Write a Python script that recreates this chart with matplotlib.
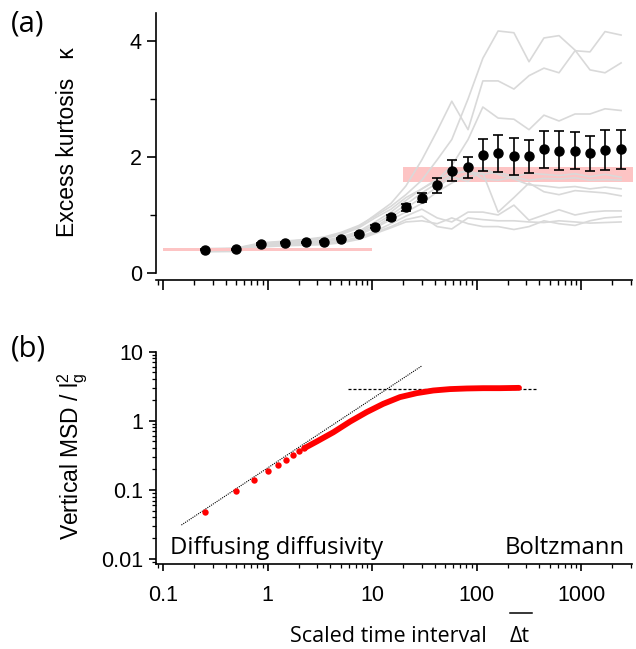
import matplotlib
matplotlib.use("Agg")
import matplotlib.pyplot as plt
from matplotlib.lines import Line2D
from matplotlib.ticker import FixedLocator, FixedFormatter, NullFormatter

plt.rcParams['font.family'] = ['Liberation Sans', 'DejaVu Sans']
plt.rcParams['mathtext.fontset'] = 'custom'
plt.rcParams['mathtext.rm'] = 'Liberation Sans'
plt.rcParams['mathtext.it'] = 'Liberation Sans:italic'

# ---- panel (a): excess kurtosis vs scaled time interval ----
dt_a = [0.25, 0.5, 0.87, 1.47, 2.33, 3.47, 5.05, 7.5, 10.7, 15.2, 21.1, 30, 42,
        58, 83, 115, 161, 228, 318, 442, 616, 877, 1219, 1698, 2418]
kappa_mean = [0.40, 0.41, 0.50, 0.52, 0.53, 0.54, 0.59, 0.67, 0.80, 0.96, 1.13, 1.30, 1.51,
              1.76, 1.82, 2.03, 2.06, 2.01, 2.01, 2.13, 2.11, 2.11, 2.06, 2.12, 2.13]
kappa_err = [0.01, 0.01, 0.01, 0.01, 0.01, 0.01, 0.01, 0.02, 0.03, 0.04, 0.06, 0.08, 0.13,
             0.18, 0.18, 0.28, 0.32, 0.32, 0.28, 0.32, 0.33, 0.32, 0.30, 0.34, 0.34]

# individual trajectories (grey)
traj_a = [0.42, 0.43, 0.52, 0.55, 0.58, 0.62, 0.70, 0.82, 0.98, 1.15, 1.35, 1.60, 1.95,
          2.30, 3.00, 3.70, 4.17, 4.14, 3.64, 4.05, 4.09, 3.84, 3.50, 3.45, 3.62]
traj_c = [0.41, 0.42, 0.51, 0.54, 0.57, 0.60, 0.68, 0.80, 1.00, 1.20, 1.50, 1.95, 2.45,
          2.96, 2.47, 3.31, 3.31, 3.17, 3.40, 3.53, 3.45, 3.83, 3.81, 4.16, 4.10]
traj_d = [0.40, 0.41, 0.50, 0.53, 0.56, 0.59, 0.66, 0.78, 0.95, 1.10, 1.30, 1.45, 1.60,
          1.85, 2.30, 2.86, 2.67, 2.65, 2.47, 2.72, 2.62, 2.74, 2.74, 2.83, 2.80]
traj_f = [0.39, 0.40, 0.49, 0.52, 0.54, 0.56, 0.62, 0.72, 0.88, 1.05, 1.25, 1.45, 1.62,
          1.72, 1.75, 1.70, 1.74, 1.66, 1.72, 1.70, 1.68, 1.71, 1.66, 1.70, 1.65]
traj_g = [0.40, 0.41, 0.49, 0.51, 0.53, 0.55, 0.60, 0.70, 0.84, 1.00, 1.18, 1.38, 1.55,
          1.68, 1.78, 1.62, 1.60, 1.65, 1.60, 1.63, 1.62, 1.64, 1.60, 1.61, 1.60]
traj_h = [0.38, 0.39, 0.47, 0.50, 0.52, 0.54, 0.59, 0.68, 0.80, 0.96, 1.12, 1.30, 1.48,
          1.66, 1.58, 1.80, 1.70, 1.62, 1.52, 1.50, 1.47, 1.49, 1.45, 1.48, 1.45]
traj_e = [0.39, 0.40, 0.48, 0.50, 0.52, 0.53, 0.58, 0.66, 0.78, 0.92, 1.05, 1.20, 1.40,
          1.55, 1.70, 1.72, 1.05, 1.30, 1.55, 1.40, 1.35, 1.42, 1.40, 1.38, 1.33]
traj_i = [0.38, 0.39, 0.47, 0.49, 0.50, 0.51, 0.55, 0.62, 0.72, 0.85, 0.98, 1.10, 0.95,
          0.88, 1.05, 1.05, 1.00, 1.17, 0.91, 1.00, 1.09, 1.00, 1.05, 1.07, 1.07]
traj_j = [0.37, 0.38, 0.46, 0.48, 0.49, 0.50, 0.54, 0.60, 0.70, 0.80, 0.92, 0.98, 0.80,
          0.76, 0.95, 0.92, 0.90, 0.90, 0.88, 0.87, 0.90, 0.88, 0.86, 0.87, 0.88]
traj_k = [0.37, 0.37, 0.45, 0.47, 0.48, 0.49, 0.52, 0.58, 0.68, 0.78, 0.88, 0.90, 0.85,
          0.95, 0.85, 0.80, 0.80, 0.75, 0.80, 0.90, 0.85, 0.82, 0.90, 0.95, 0.97]
trajectories = [traj_a, traj_c, traj_d, traj_f, traj_g, traj_h, traj_e, traj_i, traj_j, traj_k]

low_band_x = [0.1, 10]
low_band_y = [0.375, 0.425]
high_band_x = [20, 3200]
high_band_y = [1.57, 1.83]

# ---- panel (b): vertical MSD ----
msd_dot_t = [0.25, 0.5, 0.75, 1.0, 1.25, 1.5, 1.75, 2.0, 2.25]
msd_dot = [0.048, 0.095, 0.14, 0.185, 0.23, 0.27, 0.32, 0.36, 0.40]
msd_curve_t = [2.25, 2.96, 4.27, 6.17, 8.9, 12.8, 18.5, 26.8, 38.6, 55.7, 80.5, 116, 168, 255]
msd_curve = [0.40, 0.50, 0.68, 0.97, 1.33, 1.75, 2.19, 2.50, 2.73, 2.86, 2.92, 2.95, 2.95, 2.98]
diag_t = [0.15, 30]
diag_msd = [0.031, 6.2]
plateau_t = [5.9, 380]
plateau_msd = [2.86, 2.86]

x_ticks = [0.1, 1, 10, 100, 1000]
x_labels = ['0.1', '1', '10', '100', '1000']
x_minor = [m * d for d in [0.01, 0.1, 1, 10, 100, 1000] for m in range(2, 10)]
ya_ticks = [0, 2, 4]
ya_minor = [1, 3]
yb_ticks = [0.01, 0.1, 1, 10]
yb_labels = ['0.01', '0.1', '1', '10']
yb_minor = [m * d for d in [0.001, 0.01, 0.1, 1] for m in range(2, 10)]

W, H = 636, 649
fig = plt.figure(figsize=(W / 100, H / 100), dpi=100)
ax1 = fig.add_axes([156 / W, 1 - 280 / H, 476 / W, 267 / H])
ax2 = fig.add_axes([156 / W, 1 - 564 / H, 476 / W, 212.5 / H])

gray = '#d9d9d9'
pink = '#fdc4c4'

# (a)
ax1.fill_between(high_band_x, high_band_y[0], high_band_y[1], color=pink, lw=0, zorder=1)
for tr in trajectories:
    ax1.plot(dt_a, tr, color=gray, lw=1.2, zorder=2)
ax1.fill_between(low_band_x, low_band_y[0], low_band_y[1], color=pink, lw=0, zorder=3)
ax1.errorbar(dt_a, kappa_mean, yerr=kappa_err, fmt='o', color='black', ms=6.5,
             elinewidth=1.2, capsize=3.8, capthick=1.2, zorder=5)

ax1.set_xscale('log')
ax1.set_xlim(0.0857, 3076)
ax1.set_ylim(-0.12, 4.48)
ax1.spines['top'].set_visible(False)
ax1.spines['right'].set_visible(False)
ax1.spines['left'].set_bounds(0, 4.48)
ax1.yaxis.set_major_locator(FixedLocator(ya_ticks))
ax1.yaxis.set_minor_locator(FixedLocator(ya_minor))
ax1.xaxis.set_major_locator(FixedLocator(x_ticks))
ax1.xaxis.set_minor_locator(FixedLocator(x_minor))
ax1.xaxis.set_major_formatter(NullFormatter())
ax1.xaxis.set_minor_formatter(NullFormatter())
ax1.tick_params(axis='y', which='major', length=6.7, width=1.2, labelsize=15.5, pad=3.5)
ax1.tick_params(axis='y', which='minor', length=4.5, width=1.0)
ax1.tick_params(axis='x', which='major', length=7.5, width=1.2)
ax1.tick_params(axis='x', which='minor', length=3.5, width=1.0)

# (b)
ax2.plot(diag_t, diag_msd, color='black', lw=0.8, ls=(0, (1, 1)), zorder=2)
ax2.plot(plateau_t, plateau_msd, color='black', lw=0.9, ls=(0, (2.4, 1.6)), zorder=2)
ax2.plot(msd_curve_t, msd_curve, color='red', lw=4.2, solid_capstyle='round', zorder=3)
ax2.plot(msd_dot_t, msd_dot, 'o', color='red', ms=4.6, mew=0, zorder=3)

ax2.set_xscale('log')
ax2.set_yscale('log')
ax2.set_xlim(0.0857, 3076)
ax2.set_ylim(0.00847, 10)
ax2.spines['top'].set_visible(False)
ax2.spines['right'].set_visible(False)
ax2.xaxis.set_major_locator(FixedLocator(x_ticks))
ax2.xaxis.set_major_formatter(FixedFormatter(x_labels))
ax2.xaxis.set_minor_locator(FixedLocator(x_minor))
ax2.xaxis.set_minor_formatter(NullFormatter())
ax2.yaxis.set_major_locator(FixedLocator(yb_ticks))
ax2.yaxis.set_major_formatter(FixedFormatter(yb_labels))
ax2.yaxis.set_minor_locator(FixedLocator(yb_minor))
ax2.yaxis.set_minor_formatter(NullFormatter())
ax2.tick_params(axis='both', which='major', length=5, width=1.2, labelsize=15.5)
ax2.tick_params(axis='x', which='major', pad=10)
ax2.tick_params(axis='y', which='major', pad=4)
ax2.tick_params(axis='both', which='minor', length=2.8, width=0.9)

for ax in (ax1, ax2):
    for sp in ax.spines.values():
        sp.set_linewidth(1.2)

ax2.text(0.029, 0.045, 'Diffusing diffusivity', transform=ax2.transAxes,
         family='Open Sans', fontsize=17.2, ha='left', va='baseline')
ax2.text(0.985, 0.045, 'Boltzmann', transform=ax2.transAxes,
         family='Open Sans', fontsize=17.2, ha='right', va='baseline')

# labels
fig.text(11 / W, 1 - 24 / H, '(a)', family='Open Sans', fontsize=21, ha='left', va='center')
fig.text(11 / W, 1 - 349 / H, '(b)', family='Open Sans', fontsize=21, ha='left', va='center')
fig.text(67 / W, 1 - 142 / H, 'Excess kurtosis   \u03ba', rotation=90, fontsize=16.5,
         ha='center', va='center')
fig.text(73 / W, 1 - 456 / H, r'Vertical MSD / l$_\mathregular{g}^\mathregular{2}$',
         rotation=90, fontsize=16.5, ha='center', va='center')
fig.text(290 / W, 1 - 637 / H, 'Scaled time interval', family='Open Sans', fontsize=15.5,
         ha='left', va='center')
fig.text(510 / W, 1 - 637 / H, '\u0394t', family='Open Sans', fontsize=15.5,
         ha='left', va='center')
fig.add_artist(Line2D([510 / W, 532 / W], [1 - 613 / H, 1 - 613 / H],
                      transform=fig.transFigure, color='black', lw=1.1))

fig.savefig('out.png', dpi=100)
